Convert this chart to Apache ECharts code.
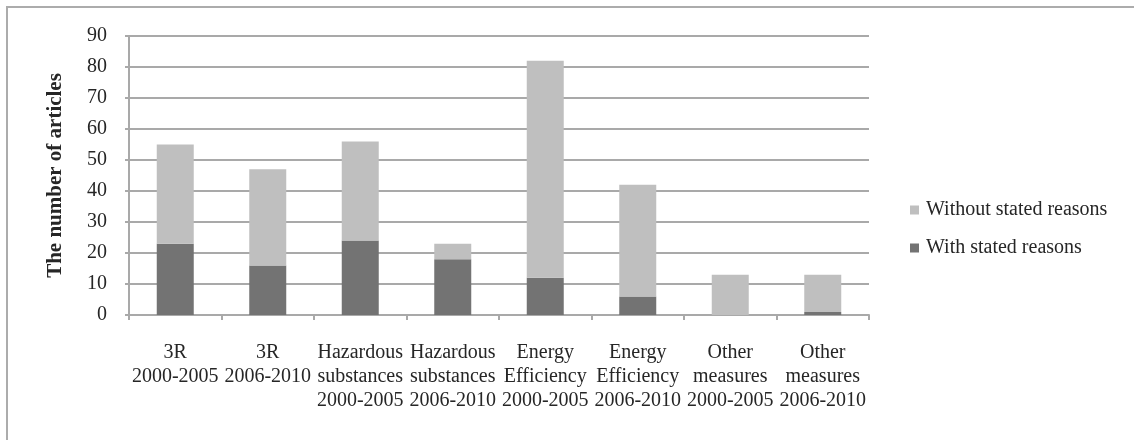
<!DOCTYPE html>
<html>
<head>
<meta charset="utf-8">
<script src="https://cdn.jsdelivr.net/npm/echarts@6/dist/echarts.min.js"></script>
<style>
  html, body { margin: 0; padding: 0; background: #fff; }
  #chart { width: 1134px; height: 440px; }
</style>
</head>
<body>
<div id="chart"></div>
<script>
// Article counts per measure and period
const categories = [
  '3R\n2000-2005', '3R\n2006-2010',
  'Hazardous\nsubstances\n2000-2005', 'Hazardous\nsubstances\n2006-2010',
  'Energy\nEfficiency\n2000-2005', 'Energy\nEfficiency\n2006-2010',
  'Other\nmeasures\n2000-2005', 'Other\nmeasures\n2006-2010'
];
const withReasons = [23, 16, 24, 18, 12, 6, 0, 1];
const withoutReasons = [32, 31, 32, 5, 70, 36, 13, 12];
const yTicks = { min: 0, max: 90, interval: 10 };

const FONT = '"Liberation Serif", "DejaVu Serif", serif';
const TEXT = '#262626';
const LINE = '#a9a9a9';

const chart = echarts.init(document.getElementById('chart'), null, { renderer: 'canvas' });
chart.setOption({
  animation: false,
  backgroundColor: '#fff',
  textStyle: { fontFamily: FONT },
  graphic: [{
    type: 'rect',
    shape: { x: 7, y: 7, width: 1140, height: 450 },
    style: { fill: 'none', stroke: '#acacac', lineWidth: 2 },
    silent: true
  }],
  grid: { left: 129, top: 36, right: 265, bottom: 125, containLabel: false },
  legend: {
    orient: 'vertical',
    left: 905,
    top: 195,
    itemWidth: 9,
    itemHeight: 9,
    itemGap: 18,
    icon: 'rect',
    data: ['Without stated reasons', 'With stated reasons'],
    textStyle: { fontFamily: FONT, fontSize: 20, lineHeight: 20, color: TEXT, padding: [0, 0, 0, 2] }
  },
  xAxis: {
    type: 'category',
    data: categories,
    axisLine: { lineStyle: { color: LINE, width: 2 } },
    axisTick: { show: true, interval: 0, length: 5, lineStyle: { color: LINE, width: 2 } },
    axisLabel: {
      interval: 0, margin: 26, fontSize: 20, lineHeight: 24,
      color: TEXT, fontFamily: FONT
    }
  },
  yAxis: {
    type: 'value',
    min: yTicks.min, max: yTicks.max, interval: yTicks.interval,
    name: 'The number of articles',
    nameLocation: 'middle',
    nameRotate: 90,
    nameGap: 63,
    nameTextStyle: { fontFamily: FONT, fontSize: 21, fontWeight: 'bold', color: TEXT },
    axisLine: { show: true, lineStyle: { color: LINE, width: 2 } },
    axisTick: { show: true, length: 4, lineStyle: { color: LINE, width: 2 } },
    axisLabel: { margin: 22, fontSize: 20, color: TEXT, fontFamily: FONT },
    splitLine: { show: true, lineStyle: { color: LINE, width: 2 } }
  },
  series: [
    {
      name: 'With stated reasons',
      type: 'bar',
      stack: 'total',
      barCategoryGap: '60%',
      data: withReasons,
      itemStyle: { color: '#737373' }
    },
    {
      name: 'Without stated reasons',
      type: 'bar',
      stack: 'total',
      barCategoryGap: '60%',
      data: withoutReasons,
      itemStyle: { color: '#bfbfbf' }
    }
  ]
});
</script>
</body>
</html>
